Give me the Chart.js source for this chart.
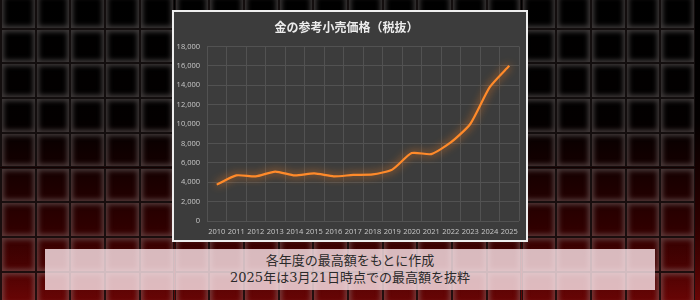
<!DOCTYPE html>
<html>
<head>
<meta charset="utf-8">
<script src="https://cdn.jsdelivr.net/npm/chart.js@4"></script>
<style>
  html, body { margin: 0; padding: 0; }
  body {
    width: 700px; height: 300px; overflow: hidden; position: relative;
    background: linear-gradient(180deg, #000 0%, #030000 40%, #1a0000 60%, #2e0000 75%, #470202 88%, #680505 100%);
  }
  .cell {
    position: absolute; box-sizing: border-box;
    border: 1px solid rgba(22, 16, 16, 0.85);
    box-shadow: inset 0 0 5px 2px rgba(150, 140, 140, 0.42);
  }
  #panel {
    position: absolute; left: 172px; top: 10px; width: 352px; height: 228px;
    border: 2px solid #eeeeee; background: #3c3c3c;
  }
  #panel canvas { display: block; }
  #note {
    position: absolute; left: 45px; top: 249px; width: 610px; height: 41px;
    background: rgba(255, 232, 238, 0.8);
    font-family: "DejaVu Serif", "Noto Sans CJK JP", serif;
    font-size: 13px; line-height: 17px; color: #2a2a2a; text-align: center;
    padding-top: 3px; box-sizing: border-box;
  }
</style>
</head>
<body>
<div id="bg"></div>
<div id="panel"><canvas id="goldChart" width="352" height="228"></canvas></div>
<div id="note">各年度の最高額をもとに作成<br>2025年は3月21日時点での最高額を抜粋</div>
<script>
// 年
const years = ['2010', '2011', '2012', '2013', '2014', '2015', '2016', '2017',
               '2018', '2019', '2020', '2021', '2022', '2023', '2024', '2025'];
// 金の参考小売価格（円/g、税抜）
const prices = [3750, 4700, 4600, 5100, 4700, 4900, 4600, 4750,
                4800, 5300, 7000, 6900, 8100, 10000, 13800, 16000];
const chartTitle = '金の参考小売価格（税抜）';

// 背景のタイル
const bg = document.getElementById('bg');
const pitch = 34.7;
for (let r = 0; r < 10; r++) {
    for (let c = 0; c < 21; c++) {
        const d = document.createElement('div');
        d.className = 'cell';
        d.style.left = (1 + c * pitch - pitch) + 'px';
        d.style.top = (-6 + r * pitch) + 'px';
        d.style.width = pitch + 'px';
        d.style.height = pitch + 'px';
        bg.appendChild(d);
    }
}

// ラインの光彩
const glowPlugin = {
    id: 'glow',
    beforeDatasetDraw(chart) {
        const ctx = chart.ctx;
        ctx.save();
        ctx.shadowColor = 'rgba(255, 130, 30, 1)';
        ctx.shadowBlur = 8;
    },
    afterDatasetDraw(chart) {
        chart.ctx.restore();
    }
};

const tickFont = { family: "'Open Sans', sans-serif", size: 7.5 };

new Chart(document.getElementById('goldChart').getContext('2d'), {
    type: 'line',
    data: {
        labels: years,
        datasets: [{
            label: '価格',
            data: prices,
            borderColor: '#ff8a2a',
            borderWidth: 2.2,
            pointRadius: 0,
            fill: false,
            tension: 0.2
        }]
    },
    options: {
        responsive: false,
        animation: false,
        layout: { padding: { left: 0, right: 7, top: 8, bottom: 0 } },
        plugins: {
            legend: { display: false },
            tooltip: { enabled: false },
            title: {
                display: true,
                text: chartTitle,
                color: '#ececec',
                font: { family: "'Noto Sans CJK JP', sans-serif", size: 12, weight: 'bold' },
                padding: { top: 0, bottom: 12 }
            }
        },
        scales: {
            x: {
                offset: true,
                grid: { offset: true, color: '#525252', drawTicks: false },
                border: { display: false },
                ticks: { color: '#c8c8c8', font: tickFont, padding: 6, maxRotation: 0, autoSkip: false },
                afterFit(scale) { scale.height = 19; }
            },
            y: {
                min: 0,
                max: 18000,
                grid: { color: '#525252', drawTicks: false },
                border: { display: false },
                ticks: {
                    stepSize: 2000,
                    color: '#c8c8c8',
                    font: tickFont,
                    padding: 7,
                    callback: v => v.toLocaleString('en-US')
                },
                afterFit(scale) { scale.width = 33; }
            }
        }
    },
    plugins: [glowPlugin]
});
</script>
</body>
</html>
